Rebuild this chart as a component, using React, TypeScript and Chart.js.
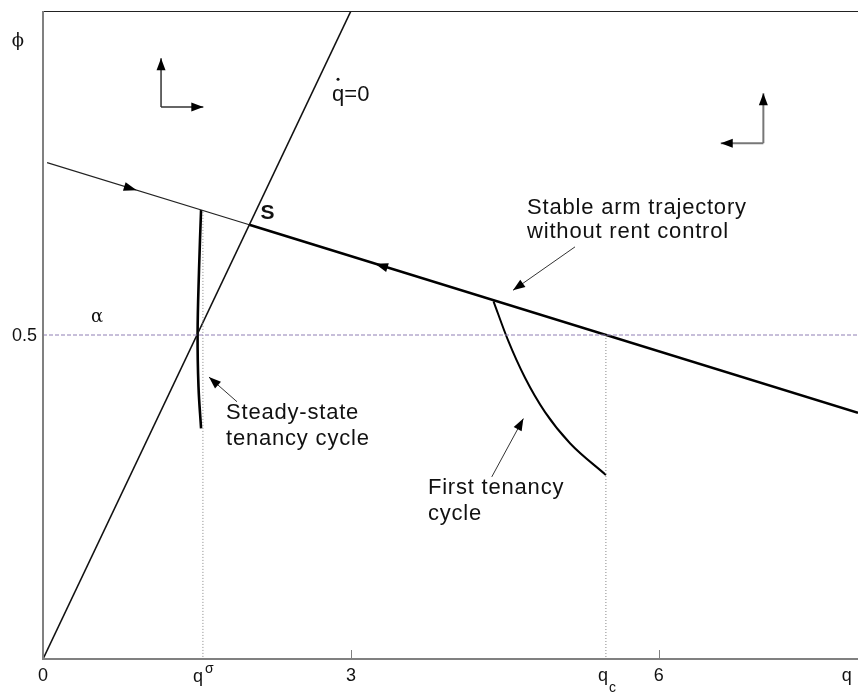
import React, { useEffect, useRef } from "react";
import { Chart, registerables } from "chart.js";

Chart.register(...registerables);

// ---- axis ranges ----
const X_MIN = 0;
const X_MAX = 7.94;
const Y_MIN = 0;
const Y_MAX = 1;

// ---- series ----
const stableArmThinQ = [0.04, 2.01];
const stableArmThinPhi = [0.766, 0.670];
const stableArmThickQ = [2.01, 7.94];
const stableArmThickPhi = [0.670, 0.380];

const qDotZeroQ = [0, 3];
const qDotZeroPhi = [0, 1];

const steadyCycleQ = [1.54, 1.52, 1.506, 1.515, 1.54];
const steadyCyclePhi = [0.693, 0.6, 0.5, 0.42, 0.356];

const firstCycleQ = [4.389, 4.53, 4.696, 4.891, 5.134, 5.484];
const firstCyclePhi = [0.552, 0.492, 0.434, 0.381, 0.333, 0.284];

const alphaLevelQ = [0, 7.94];
const alphaLevelPhi = [0.5, 0.5];

const qSigma = 1.558;
const qC = 5.484;
const qSigmaDropPhi = [0.69, 0];
const qCDropPhi = [0.5, 0];

// ---- ticks ----
const xTickValues = [0, qSigma, 3, qC, 6, 7.83];
const xTickBase = ["0", "q", "3", "q", "6", "q"];
const xTickSup = ["", "σ", "", "", "", ""];
const xTickSub = ["", "", "", "c", "", ""];
const xTickMarks = [3, 6];
const yTickValues = [0.5];
const yTickLabels = ["0.5"];

// ---- arrowheads along the stable arm ----
const armArrowQ = [0.913, 3.235];
const armArrowDir = [1, -1];

const FONT = '"Liberation Sans", Arial, Helvetica, sans-serif';

const pts = (xs: number[], ys: number[]) => xs.map((x, i) => ({ x, y: ys[i] }));

function armPhi(q: number) {
  const q0 = stableArmThinQ[0];
  const p0 = stableArmThinPhi[0];
  const q1 = stableArmThickQ[1];
  const p1 = stableArmThickPhi[1];
  return p0 + ((q - q0) * (p1 - p0)) / (q1 - q0);
}

function head(ctx: CanvasRenderingContext2D, tx: number, ty: number, ang: number, len = 11, half = 4.2) {
  const c = Math.cos(ang);
  const s = Math.sin(ang);
  ctx.beginPath();
  ctx.moveTo(tx, ty);
  ctx.lineTo(tx - len * c + half * s, ty - len * s - half * c);
  ctx.lineTo(tx - len * c - half * s, ty - len * s + half * c);
  ctx.closePath();
  ctx.fill();
}

function arrow(ctx: CanvasRenderingContext2D, x0: number, y0: number, x1: number, y1: number, width = 1, len = 11, half = 4.2) {
  ctx.lineWidth = width;
  ctx.beginPath();
  ctx.moveTo(x0, y0);
  ctx.lineTo(x1, y1);
  ctx.stroke();
  head(ctx, x1, y1, Math.atan2(y1 - y0, x1 - x0), len, half);
}

const overlay = {
  id: "overlay",
  afterDatasetsDraw(chart: any) {
    const ctx: any = chart.ctx;
    const xs = chart.scales.x;
    const ys = chart.scales.y;
    const X = (v: number) => xs.getPixelForValue(v);
    const Y = (v: number) => ys.getPixelForValue(v);
    const { left, right, top, bottom } = chart.chartArea;
    ctx.save();

    // frame
    ctx.strokeStyle = "#222";
    ctx.lineWidth = 1;
    ctx.beginPath();
    ctx.moveTo(left, top + 0.5);
    ctx.lineTo(right + 10, top + 0.5);
    ctx.stroke();
    ctx.strokeStyle = "#808080";
    ctx.lineWidth = 2;
    ctx.beginPath();
    ctx.moveTo(left, top);
    ctx.lineTo(left, bottom);
    ctx.lineTo(right + 10, bottom);
    ctx.stroke();

    // tick marks
    ctx.lineWidth = 1;
    xTickMarks.forEach((v) => {
      const x = Math.round(X(v)) + 0.5;
      ctx.beginPath();
      ctx.moveTo(x, bottom);
      ctx.lineTo(x, bottom - 9);
      ctx.stroke();
    });

    // tick labels
    ctx.fillStyle = "#111";
    ctx.textBaseline = "middle";
    xTickValues.forEach((v, i) => {
      const x = X(v);
      const base = xTickBase[i];
      ctx.font = `18px ${FONT}`;
      ctx.textAlign = "center";
      const y = bottom + 17;
      if (xTickSup[i]) {
        ctx.fillText(base, x - 5, y + 1);
        ctx.font = `14px ${FONT}`;
        ctx.textAlign = "left";
        ctx.fillText(xTickSup[i], x + 2, y - 7);
      } else if (xTickSub[i]) {
        ctx.fillText(base, x - 3, y);
        ctx.font = `14px ${FONT}`;
        ctx.textAlign = "left";
        ctx.fillText(xTickSub[i], x + 3, y + 12);
      } else {
        ctx.fillText(base, x, y);
      }
    });
    ctx.font = `18px ${FONT}`;
    ctx.textAlign = "right";
    yTickValues.forEach((v, i) => {
      ctx.fillText(yTickLabels[i], left - 6, Y(v) + 1);
    });

    // axis symbol and level label
    ctx.font = `18px "DejaVu Serif", serif`;
    ctx.textAlign = "center";
    ctx.fillText("ϕ", 18, 41);
    ctx.fillText("α", X(0.526), Y(0.528));

    // arrowheads on the stable arm
    ctx.fillStyle = "#000";
    ctx.strokeStyle = "#000";
    const ang = Math.atan2(Y(stableArmThickPhi[1]) - Y(stableArmThinPhi[0]), X(stableArmThickQ[1]) - X(stableArmThinQ[0]));
    armArrowQ.forEach((q, i) => {
      const a = armArrowDir[i] > 0 ? ang : ang + Math.PI;
      head(ctx, X(q), Y(armPhi(q)), a, 13, 4.5);
    });

    // direction indicators
    ctx.strokeStyle = "#333";
    ctx.fillStyle = "#000";
    arrow(ctx, X(1.15), Y(0.852), X(1.15), Y(0.927), 1.5, 12, 4.5);
    arrow(ctx, X(1.15), Y(0.852), X(1.562), Y(0.852), 1.5, 12, 4.5);
    ctx.strokeStyle = "#777";
    arrow(ctx, X(7.018), Y(0.796), X(7.018), Y(0.873), 2, 12, 4.5);
    arrow(ctx, X(7.018), Y(0.796), X(6.603), Y(0.796), 2, 12, 4.5);

    // callout arrows
    ctx.strokeStyle = "#333";
    arrow(ctx, X(5.183), Y(0.636), X(4.579), Y(0.569), 1, 12, 4.5);
    arrow(ctx, X(1.89), Y(0.397), X(1.617), Y(0.435), 1, 12, 4.5);
    arrow(ctx, X(4.372), Y(0.281), X(4.68), Y(0.371), 1, 12, 4.5);

    // texts
    ctx.fillStyle = "#111";
    ctx.textAlign = "left";
    ctx.font = `22px ${FONT}`;
    ctx.letterSpacing = "0.8px";
    ctx.fillText("Stable arm trajectory", X(4.716), Y(0.696));
    ctx.fillText("without rent control", X(4.716), Y(0.659));
    ctx.fillText("Steady-state", X(1.783), Y(0.38));
    ctx.fillText("tenancy cycle", X(1.783), Y(0.34));
    ctx.fillText("First tenancy", X(3.75), Y(0.264));
    ctx.fillText("cycle", X(3.75), Y(0.224));
    ctx.letterSpacing = "0px";

    ctx.font = `bold 21px ${FONT}`;
    ctx.fillText("S", X(2.12), Y(0.688));

    ctx.font = `22px ${FONT}`;
    const qx = X(2.816);
    const qy = Y(0.87);
    ctx.fillText("q=0", qx, qy);
    ctx.beginPath();
    ctx.arc(qx + 6, qy - 16, 1.5, 0, Math.PI * 2);
    ctx.fill();

    ctx.restore();
  },
};

export default function App() {
  const ref = useRef<HTMLCanvasElement | null>(null);

  useEffect(() => {
    if (!ref.current) return;
    const line = (data: any, color: string, width: number, extra: any = {}) => ({
      data,
      showLine: true,
      borderColor: color,
      borderWidth: width,
      pointRadius: 0,
      fill: false,
      ...extra,
    });
    const chart = new Chart(ref.current, {
      type: "scatter",
      data: {
        datasets: [
          line(pts(alphaLevelQ, alphaLevelPhi), "#8f7fb4", 1, { borderDash: [4, 2] }),
          line(pts([qSigma, qSigma], qSigmaDropPhi), "#888", 1, { borderDash: [1, 2] }),
          line(pts([qC, qC], qCDropPhi), "#888", 1, { borderDash: [1, 2] }),
          line(pts(qDotZeroQ, qDotZeroPhi), "#111", 1.6),
          line(pts(stableArmThinQ, stableArmThinPhi), "#222", 1.1),
          line(pts(stableArmThickQ, stableArmThickPhi), "#000", 2.6),
          line(pts(steadyCycleQ, steadyCyclePhi), "#000", 2.6, { tension: 0.4 }),
          line(pts(firstCycleQ, firstCyclePhi), "#000", 2, { cubicInterpolationMode: "monotone" }),
        ],
      },
      options: {
        responsive: false,
        animation: false,
        events: [],
        layout: { padding: { left: 43, top: 11, right: 0, bottom: 33 } },
        plugins: { legend: { display: false }, tooltip: { enabled: false } },
        scales: {
          x: { type: "linear", display: false, min: X_MIN, max: X_MAX },
          y: { type: "linear", display: false, min: Y_MIN, max: Y_MAX },
        },
      },
      plugins: [overlay],
    });
    return () => chart.destroy();
  }, []);

  return (
    <div style={{ position: "fixed", left: 0, top: 0, width: 858, height: 692, background: "#fff" }}>
      <canvas ref={ref} width={858} height={692} />
    </div>
  );
}
